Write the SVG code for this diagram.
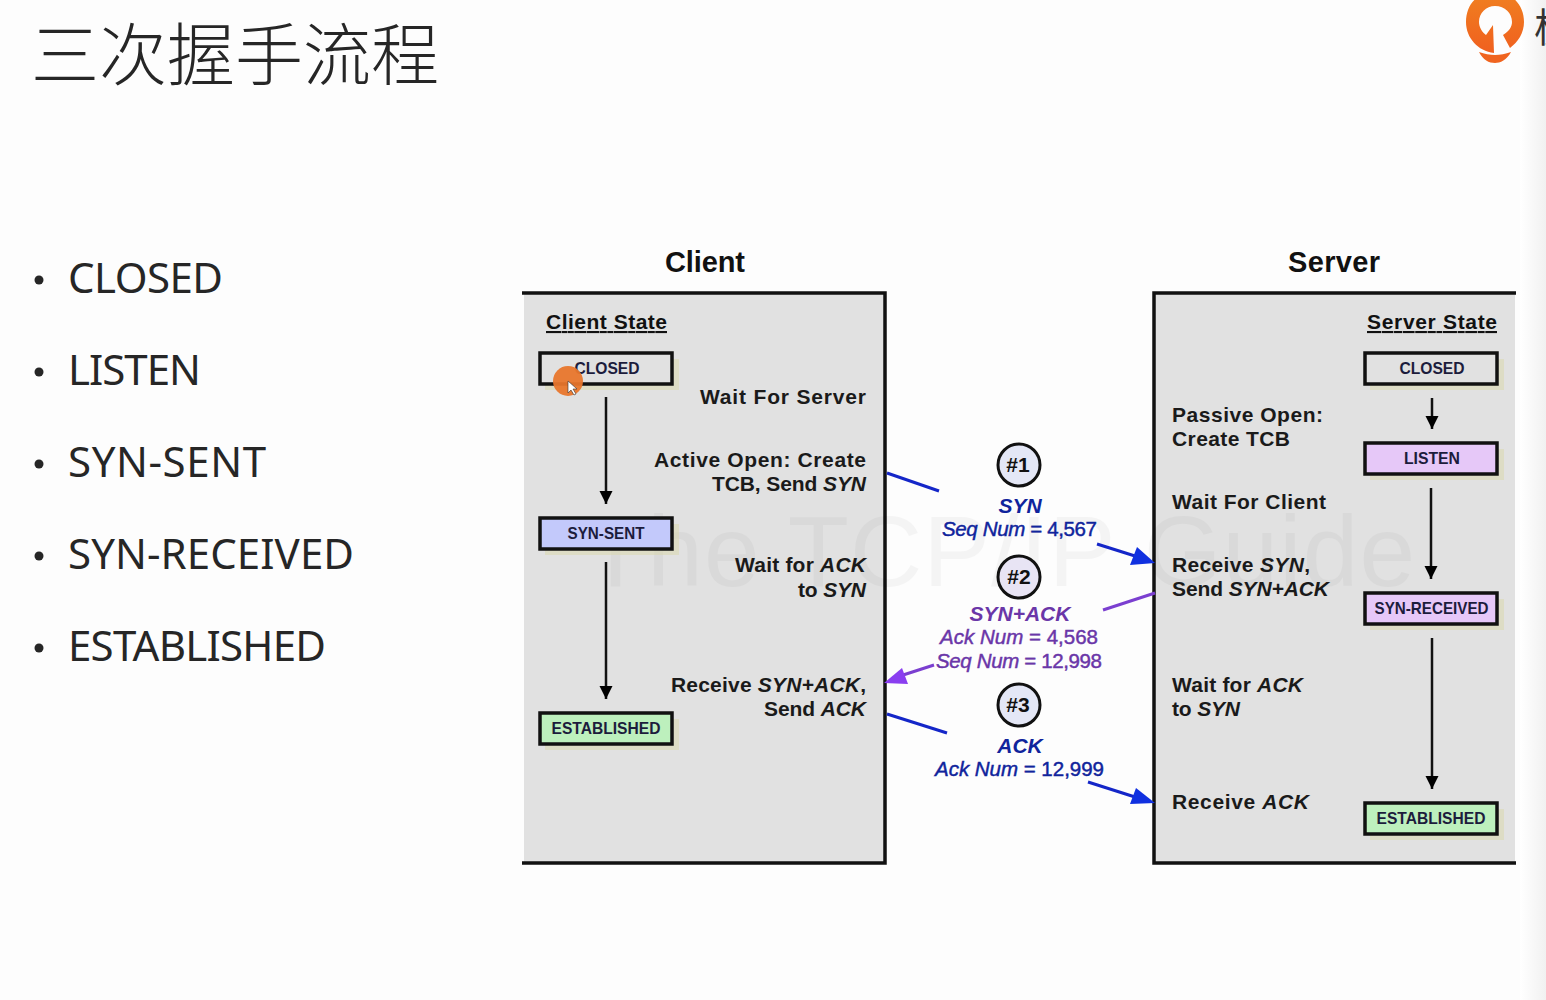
<svg xmlns="http://www.w3.org/2000/svg" width="1546" height="1000" viewBox="0 0 1546 1000">
<defs>
<linearGradient id="edge" x1="0" x2="1" y1="0" y2="0"><stop offset="0" stop-color="#ffffff"/><stop offset="1" stop-color="#f1f1f1"/></linearGradient>
<linearGradient id="lg" x1="0" x2="0" y1="0" y2="1"><stop offset="0" stop-color="#f08020"/><stop offset="1" stop-color="#f0601f"/></linearGradient>
<marker id="ah" markerUnits="userSpaceOnUse" markerWidth="14" markerHeight="14" refX="13" refY="7" orient="auto"><path d="M0 0.5 L13 7 L0 13.500 Z" fill="#000"/></marker>
</defs>
<style>
text{font-family:"Liberation Sans",Arial,sans-serif}
.title{font-family:"Noto Sans CJK SC","Noto Sans CJK JP",sans-serif;font-size:68px;fill:#262626;font-weight:300}
.bul{font-family:"Noto Sans","Open Sans",sans-serif;font-size:42px;fill:#262626}
.dot{fill:#262626}
.head{font-size:29px;font-weight:bold;fill:#111;text-anchor:middle}
.state{font-size:21px;font-weight:bold;fill:#111}
.lab{font-size:21px;font-weight:bold;fill:#1a1a1a}
.e{text-anchor:end}
.box{stroke:#111;stroke-width:3.500}
.shadow{fill:#d9d7a9;opacity:.5}
.bt{font-size:17px;font-weight:bold;fill:#1c1c3c;text-anchor:middle}
.panel{fill:#e1e1e1}
.pline{fill:none;stroke:#111;stroke-width:3.500}
.arr{fill:none;stroke:#111;stroke-width:2.500;marker-end:url(#ah)}
.circ{fill:#e4e7f6;stroke:#111;stroke-width:3}
.num{font-size:21px;font-weight:bold;fill:#111;text-anchor:middle}
.m{font-size:21px;font-weight:bold;font-style:italic;text-anchor:middle}
.n{font-size:20.500px;text-anchor:middle;stroke-width:.45}
.i{font-style:italic}
.blue{fill:#10249c}
.pur{fill:#6a36a8}
.n.blue{stroke:#10249c}
.n.pur{stroke:#6a36a8}
.sb{stroke:#1426c8;stroke-width:3;fill:none}
.sp{stroke:#7b3fd0;stroke-width:3;fill:none}
</style>
<rect width="1546" height="1000" fill="#fdfdfd"/>
<rect x="1520" y="0" width="26" height="1000" fill="url(#edge)"/>

<text class="title" x="31" y="80">三次握手流程</text>

<g id="bullets">
<circle class="dot" cx="39" cy="280" r="4.500"/><text class="bul" x="68" y="293" textLength="155">CLOSED</text>
<circle class="dot" cx="39" cy="372" r="4.500"/><text class="bul" x="68" y="385" textLength="133">LISTEN</text>
<circle class="dot" cx="39" cy="464" r="4.500"/><text class="bul" x="68" y="477" textLength="198">SYN-SENT</text>
<circle class="dot" cx="39" cy="556" r="4.500"/><text class="bul" x="68" y="569" textLength="286">SYN-RECEIVED</text>
<circle class="dot" cx="39" cy="648" r="4.500"/><text class="bul" x="68" y="661" textLength="258">ESTABLISHED</text>
</g>

<g id="logo">
<path d="M1494 53 C1478 51 1466 38 1466 22 C1466 4 1478 -8 1495 -8 C1512 -8 1524 5 1524 22 C1524 33 1518 42 1510 48 L1503 35 C1509 31 1512 27 1512 22 C1512 13 1505 6 1495 6 C1486 6 1479 13 1479 22 C1479 27 1482 32 1486 35 L1493 25 Z" fill="url(#lg)"/>
<path d="M1479 52 C1490 56 1500 56 1511 52 C1507 60 1500 63 1495 63 C1489 63 1483 60 1479 52 Z" fill="#f0641f"/>
<text x="1534" y="42" font-size="40" fill="#333" style="font-family:'Noto Sans CJK SC',sans-serif">极</text>
</g>

<text class="head" x="705" y="272" textLength="80">Client</text>
<text class="head" x="1334" y="272" textLength="92">Server</text>

<g id="client-panel">
<rect class="panel" x="524" y="293" width="361" height="570"/>
<path class="pline" d="M522 293 H885 V863 H522"/>
<text class="state" x="546" y="329" textLength="121" style="text-decoration:underline">Client State</text>
</g>
<g id="server-panel">
<rect class="panel" x="1154" y="293" width="361" height="570"/>
<path class="pline" d="M1516 293 H1154 V863 H1516"/>
<text class="state" x="1497" y="329" text-anchor="end" textLength="130" style="text-decoration:underline">Server State</text>
</g>

<g id="watermark" font-size="100" fill="#000" opacity=".03"><text x="585" y="586" textLength="830">The TCP/IP Guide</text></g>

<g id="client-closed">
<rect class="shadow" x="545" y="359" width="134" height="31"/>
<rect class="box" x="540" y="353" width="132" height="31" fill="#e1e1e1"/>
<text class="bt" x="607" y="374" textLength="65" lengthAdjust="spacingAndGlyphs">CLOSED</text>
</g>
<g id="client-syn-sent">
<rect class="shadow" x="545" y="524" width="134" height="31"/>
<rect class="box" x="540" y="518" width="132" height="31" fill="#c3c9fb"/>
<text class="bt" x="606" y="539" textLength="77" lengthAdjust="spacingAndGlyphs">SYN-SENT</text>
</g>
<g id="client-established">
<rect class="shadow" x="545" y="719" width="134" height="31"/>
<rect class="box" x="540" y="713" width="132" height="31" fill="#bdf0bd"/>
<text class="bt" x="606" y="734" textLength="109" lengthAdjust="spacingAndGlyphs">ESTABLISHED</text>
</g>
<g id="server-closed">
<rect class="shadow" x="1370" y="359" width="134" height="31"/>
<rect class="box" x="1365" y="353" width="132" height="31" fill="#e1e1e1"/>
<text class="bt" x="1432" y="374" textLength="65" lengthAdjust="spacingAndGlyphs">CLOSED</text>
</g>
<g id="server-listen">
<rect class="shadow" x="1370" y="449" width="134" height="31"/>
<rect class="box" x="1365" y="443" width="132" height="31" fill="#e6c8f8"/>
<text class="bt" x="1432" y="464" textLength="56" lengthAdjust="spacingAndGlyphs">LISTEN</text>
</g>
<g id="server-syn-received">
<rect class="shadow" x="1370" y="599" width="134" height="31"/>
<rect class="box" x="1365" y="593" width="132" height="31" fill="#e6c8f8"/>
<text class="bt" x="1431.500" y="614" textLength="114" lengthAdjust="spacingAndGlyphs">SYN-RECEIVED</text>
</g>
<g id="server-established">
<rect class="shadow" x="1370" y="809" width="134" height="31"/>
<rect class="box" x="1365" y="803" width="132" height="31" fill="#bdf0bd"/>
<text class="bt" x="1431" y="824" textLength="109" lengthAdjust="spacingAndGlyphs">ESTABLISHED</text>
</g>

<g id="client-labels">
<text class="lab e" x="866" y="404" textLength="166">Wait For Server</text>
<text class="lab e" x="866" y="467" textLength="212">Active Open: Create</text>
<text class="lab e" x="866" y="491" textLength="154">TCB, Send <tspan class="i">SYN</tspan></text>
<text class="lab e" x="866" y="572" textLength="131">Wait for <tspan class="i">ACK</tspan></text>
<text class="lab e" x="866" y="597" textLength="68">to <tspan class="i">SYN</tspan></text>
<text class="lab e" x="866" y="692" textLength="195">Receive <tspan class="i">SYN+ACK</tspan>,</text>
<text class="lab e" x="866" y="716" textLength="102">Send <tspan class="i">ACK</tspan></text>
</g>
<g id="server-labels">
<text class="lab" x="1172" y="422" textLength="151">Passive Open:</text>
<text class="lab" x="1172" y="446" textLength="118">Create TCB</text>
<text class="lab" x="1172" y="509" textLength="154">Wait For Client</text>
<text class="lab" x="1172" y="572" textLength="138">Receive <tspan class="i">SYN</tspan>,</text>
<text class="lab" x="1172" y="596" textLength="157">Send <tspan class="i">SYN+ACK</tspan></text>
<text class="lab" x="1172" y="692" textLength="131">Wait for <tspan class="i">ACK</tspan></text>
<text class="lab" x="1172" y="716" textLength="68">to <tspan class="i">SYN</tspan></text>
<text class="lab" x="1172" y="809" textLength="137">Receive <tspan class="i">ACK</tspan></text>
</g>

<g id="connectors">
<path class="arr" d="M606 397 V504"/>
<path class="arr" d="M606 562 V699"/>
<path class="arr" d="M1432 398 V429"/>
<path class="arr" d="M1431 488 V579"/>
<path class="arr" d="M1432 638 V789"/>
<path class="sb" d="M887 473 L939 491"/>
<path class="sb" d="M1097 544 L1135 556"/>
<path d="M1155 563 L1130 565 L1137 547 Z" fill="#1030e0"/>
<path class="sp" d="M1103 610 L1155 593"/>
<path class="sp" d="M934 665 L900 676"/>
<path d="M884 683 L902 668 L908 684 Z" fill="#8a3ef0"/>
<path class="sb" d="M887 714 L947 733"/>
<path class="sb" d="M1088 782 L1135 797"/>
<path d="M1155 803 L1130 804 L1136 788 Z" fill="#1030e0"/>
</g>

<g id="step1">
<circle class="circ" cx="1019" cy="465" r="21"/>
<text class="num" x="1018" y="472">#1</text>
<text class="m blue" x="1020" y="513">SYN</text>
<text class="n blue" x="1019.500" y="536" textLength="155"><tspan class="i">Seq Num</tspan> = 4,567</text>
</g>
<g id="step2">
<circle class="circ" cx="1019" cy="577" r="21" style="fill:#e8e4f4"/>
<text class="num" x="1019" y="584">#2</text>
<text class="m pur" x="1020" y="621">SYN+ACK</text>
<text class="n pur" x="1019" y="644" textLength="158"><tspan class="i">Ack Num</tspan> = 4,568</text>
<text class="n pur" x="1019" y="668" textLength="166"><tspan class="i">Seq Num</tspan> = 12,998</text>
</g>
<g id="step3">
<circle class="circ" cx="1019" cy="705" r="21"/>
<text class="num" x="1018" y="712">#3</text>
<text class="m blue" x="1020" y="753">ACK</text>
<text class="n blue" x="1019.500" y="776" textLength="169"><tspan class="i">Ack Num</tspan> = 12,999</text>
</g>

<g id="cursor">
<circle cx="568" cy="381" r="15" fill="#e8762c" opacity=".95"/>
<path d="M568 381 V393 L571 390 L574 395 L576 394 L573 389 L577 389 Z" fill="#fff" stroke="#333" stroke-width=".6"/>
</g>
</svg>
